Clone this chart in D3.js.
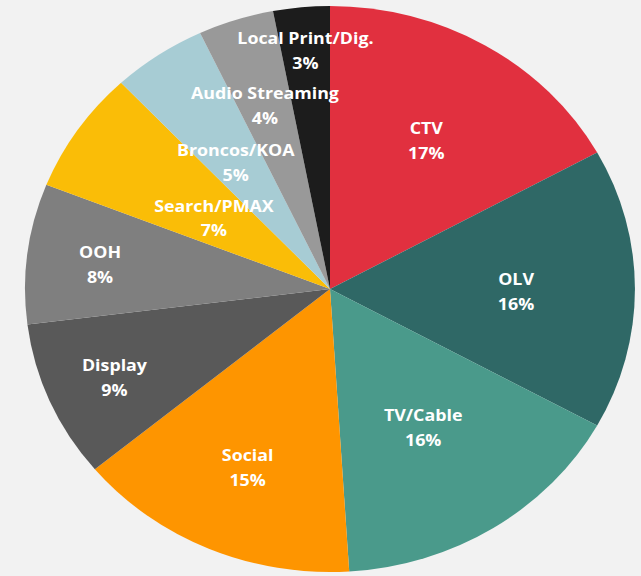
<!DOCTYPE html>
<html>
<head>
<meta charset="utf-8">
<script src="https://cdn.jsdelivr.net/npm/d3@7"></script>
<style>
  html, body { margin: 0; padding: 0; background: #f2f2f2; }
  svg { display: block; }
</style>
</head>
<body>
<svg id="chart" width="641" height="576"></svg>
<script>
// ---- data ----
const categories = ["CTV", "OLV", "TV/Cable", "Social", "Display", "OOH", "Search/PMAX", "Broncos/KOA", "Audio Streaming", "Local Print/Dig."];
const shares = [17, 16, 16, 15, 9, 8, 7, 5, 4, 3];
const colors = ["#e1303f", "#2f6866", "#4a9a8b", "#fe9500", "#595959", "#7f7f7f", "#fabd07", "#a7ccd4", "#999999", "#1c1c1c"];
// label distance from centre, as a fraction of radius
const labelRadius = [0.62, 0.61, 0.57, 0.68, 0.77, 0.76, 0.46, 0.55, 0.69, 0.855];

// ---- layout ----
const W = 641, H = 576;
const cx = 330, cy = 289, rx = 305, ry = 283;

const svg = d3.select("#chart");
svg.append("rect").attr("width", W).attr("height", H).attr("fill", "#f2f2f2");

const pie = d3.pie().sort(null).value(d => d)(shares);
const arc = d3.arc().innerRadius(0).outerRadius(1);

const g = svg.append("g").attr("transform", `translate(${cx},${cy}) scale(${rx},${ry})`);
g.selectAll("path").data(pie).join("path")
  .attr("d", arc)
  .attr("fill", (d, i) => colors[i]);

const labels = svg.append("g")
  .attr("font-family", "'Open Sans', Lato, sans-serif")
  .attr("font-weight", "bold")
  .attr("font-size", 16.5)
  .attr("fill", "#ffffff")
  .attr("text-anchor", "middle");

pie.forEach((d, i) => {
  const r = labelRadius[i];
  const c = d3.arc().innerRadius(r).outerRadius(r).centroid(d);
  const x = cx + c[0] * rx, y = cy + c[1] * ry;
  const t = labels.append("text")
    .attr("transform", `translate(${x},${y}) scale(1.08,1)`);
  t.append("tspan").attr("x", 0).attr("y", 0).attr("dy", "-0.25em").text(categories[i]);
  t.append("tspan").attr("x", 0).attr("dy", "1.5em").text(shares[i] + "%");
});
</script>
</body>
</html>
